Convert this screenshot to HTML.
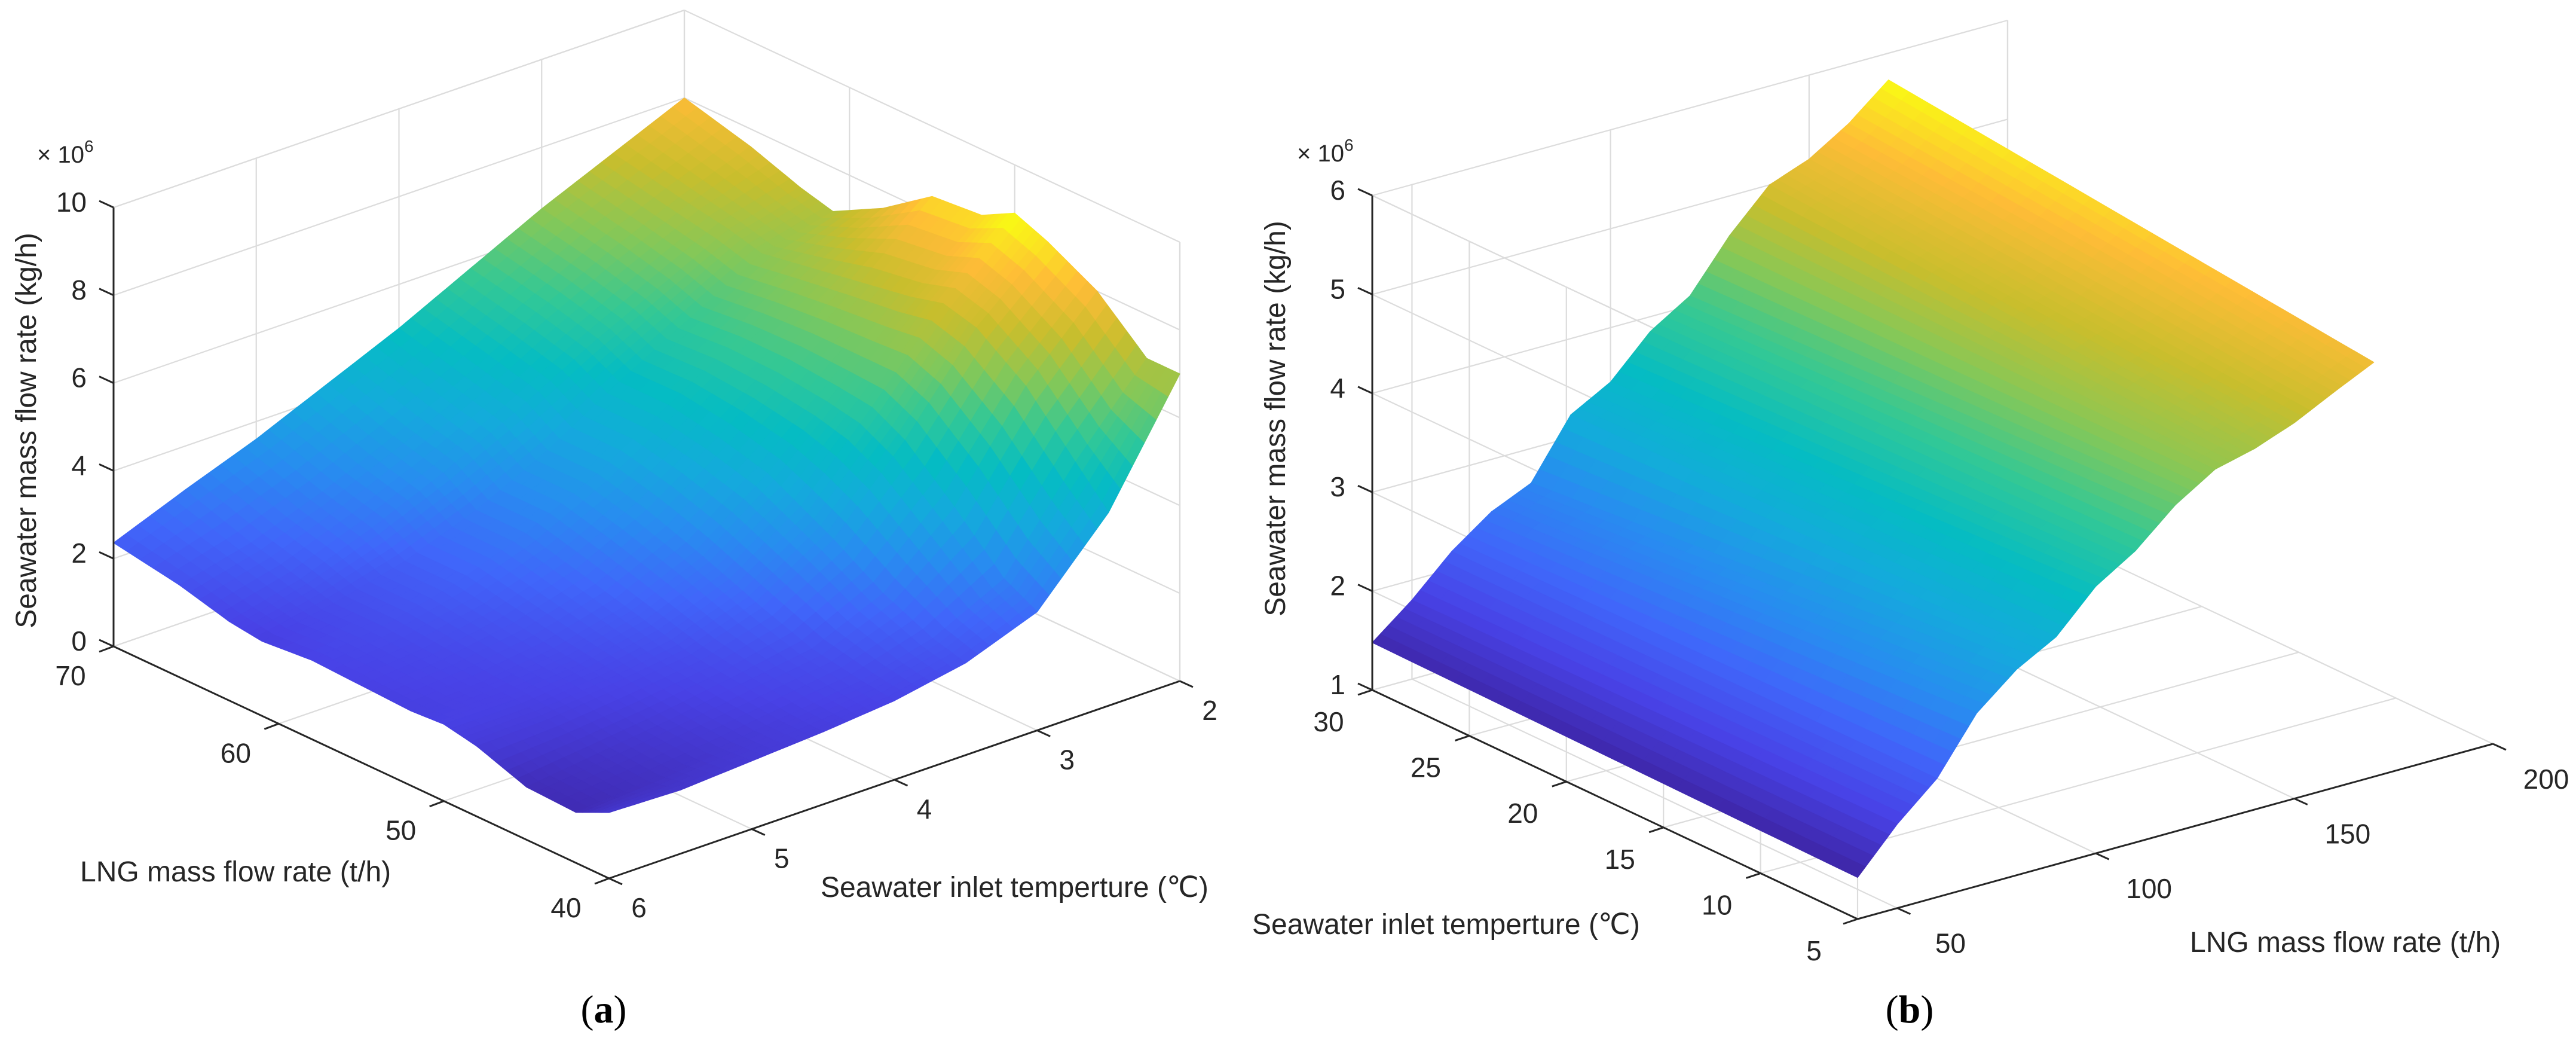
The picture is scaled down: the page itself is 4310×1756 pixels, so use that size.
<!DOCTYPE html>
<html><head><meta charset="utf-8"><style>
html,body{margin:0;padding:0;background:#fff;}
svg{display:block;}
text{font-family:"Liberation Sans",Arial,sans-serif;fill:#262626;}
.cap{font-family:"Liberation Serif",serif;fill:#000;}
</style></head><body>
<svg id="fig" width="4310" height="1756" viewBox="0 0 4310 1756" xmlns="http://www.w3.org/2000/svg">
<g id="chartA"></g>
<g id="chartB"></g>
<text class="cap" x="1010" y="1710" font-size="66" text-anchor="middle">(<tspan font-weight="bold">a</tspan>)</text>
<text class="cap" x="3195" y="1710" font-size="66" text-anchor="middle">(<tspan font-weight="bold">b</tspan>)</text>
</svg>
<script>
// ---- Chart (a) data ----
const lngA = [40,42,45,48,50,52,55,58,61,63,66,70];
const tempA = [2,2.5,3,3.5,4,4.5,5,5.5,6];
const flowA = [
 [7.0,7.0,8.0,8.6,8.9,8.5,8.4,7.6,7.0,7.2,7.6,8.0],
 [4.4,5.2,6.4,7.2,7.4,7.2,7.0,6.8,6.6,6.8,7.0,7.3],
 [2.7,3.1,4.2,5.2,5.6,5.7,5.8,5.8,5.7,6.0,6.3,6.6],
 [2.1,2.3,2.8,3.5,3.9,4.3,4.6,4.8,4.8,5.2,5.5,5.8],
 [1.8,1.9,2.1,2.5,2.8,3.1,3.5,3.8,3.8,4.3,4.6,5.0],
 [1.65,1.7,1.85,2.0,2.2,2.4,2.7,3.0,3.0,3.5,3.8,4.3],
 [1.55,1.5,1.6,1.8,1.9,2.0,2.2,2.4,2.4,2.8,3.1,3.6],
 [1.45,1.3,1.4,1.65,1.75,1.8,1.9,2.0,2.0,2.2,2.5,3.0],
 [1.5,1.15,1.2,1.6,1.75,1.7,1.75,1.8,1.7,1.8,2.1,2.36]
];
const zTicksA = [0,2,4,6,8,10];
const lngTicksA = [40,50,60,70];
const tempTicksA = [2,3,4,5,6];

// ---- Chart (b) data ----
const lngB = [40,50,60,70,80,90,100,110,120,130,140,150,160,170];
const tempB = [5,30];
const flowB = [
 [1.42,1.85,2.2,2.75,3.08,3.3,3.7,3.95,4.3,4.55,4.65,4.8,5.0,5.19],
 [1.48,1.8,2.18,2.47,2.65,3.23,3.45,3.85,4.1,4.6,5.0,5.15,5.4,5.73]
];
const zTicksB = [1,2,3,4,5,6];
const lngTicksB = [50,100,150,200];
const tempTicksB = [5,10,15,20,25,30];

const NS='http://www.w3.org/2000/svg';
const parula=[[62,38,168],[72,66,230],[64,102,250],[40,140,240],[20,170,220],[5,188,195],[50,200,150],[130,200,90],[200,190,45],[254,188,55],[249,250,20]];
function cmap(t){t=Math.max(0,Math.min(1,t))*10;const i=Math.min(9,Math.floor(t)),f=t-i;const a=parula[i],b=parula[i+1];
 return 'rgb('+a.map((v,k)=>Math.round(v+(b[k]-v)*f)).join(',')+')';}
function mk(tag,attrs,parent){const e=document.createElementNS(NS,tag);for(const k in attrs)e.setAttribute(k,attrs[k]);parent.appendChild(e);return e;}

function drawChart(g,cfg){
 const P=(L,T,z)=>{const u=cfg.u(L),v=cfg.v(T);return [cfg.O[0]+u*cfg.U[0]+v*cfg.V[0], cfg.O[1]+u*cfg.U[1]+v*cfg.V[1]-(z-cfg.zmin)*cfg.zs];};
 const grid=mk('g',{},g);
 
 
 const gl=(a,b)=>{mk('line',{x1:a[0],y1:a[1],x2:b[0],y2:b[1],stroke:'#dcdcdc','stroke-width':2.2},grid);};
 const zmax=cfg.zmax,zmin=cfg.zmin;
 cfg.zTicks.forEach(z=>{gl(P(cfg.Lback,cfg.Tfront,z),P(cfg.Lback,cfg.Tback,z));gl(P(cfg.Lback,cfg.Tback,z),P(cfg.Lfront,cfg.Tback,z));});
 cfg.tTicks.forEach(t=>{gl(P(cfg.Lback,t,zmin),P(cfg.Lback,t,zmax));gl(P(cfg.Lback,t,zmin),P(cfg.Lfront,t,zmin));});
 cfg.lTicks.forEach(l=>{gl(P(l,cfg.Tback,zmin),P(l,cfg.Tback,zmax));gl(P(l,cfg.Tback,zmin),P(l,cfg.Tfront,zmin));});
 gl(P(cfg.Lfront,cfg.Tback,zmin),P(cfg.Lfront,cfg.Tback,zmax));
 gl(P(cfg.Lback,cfg.Tfront,zmax),P(cfg.Lback,cfg.Tback,zmax));
 const surf=mk('g',{},g);
 
 
 const Ls=cfg.L,Ts=cfg.T,Z=cfg.Z,S=cfg.sub,ST=cfg.subT;
 const quads=[];
 for(let j=0;j<Ts.length-1;j++)for(let i=0;i<Ls.length-1;i++){
  for(let b=0;b<ST;b++)for(let a=0;a<S;a++){
   const f=(aa,bb)=>{const x=aa/S,y=bb/ST;const z=Z[j][i]*(1-x)*(1-y)+Z[j][i+1]*x*(1-y)+Z[j+1][i]*(1-x)*y+Z[j+1][i+1]*x*y;
     const L=Ls[i]+(Ls[i+1]-Ls[i])*x,T=Ts[j]+(Ts[j+1]-Ts[j])*y;return [L,T,z];};
   const c=[f(a,b),f(a+1,b),f(a+1,b+1),f(a,b+1)];
   const zc=(c[0][2]+c[1][2]+c[2][2]+c[3][2])/4;
   const Lc=(c[0][0]+c[2][0])/2,Tc=(c[0][1]+c[2][1])/2;
   quads.push({pts:c.map(p=>P(p[0],p[1],p[2])),z:zc,d:cfg.depth(Lc,Tc)});
  }}
 quads.sort((p,q)=>p.d-q.d);
 quads.forEach(q=>{const col=cmap((q.z-cfg.cmin)/(cfg.cmax-cfg.cmin));
  const el=mk('polygon',{points:q.pts.map(p=>p[0].toFixed(1)+','+p[1].toFixed(1)).join(' '),fill:col,stroke:col,'stroke-width':1.2,'stroke-linejoin':'round'},surf);
  
  });
 const ax=mk('g',{stroke:'#262626','stroke-width':3,fill:'none'},g);
 
 
 const al=(a,b)=>mk('line',{x1:a[0],y1:a[1],x2:b[0],y2:b[1]},ax);
 al(P(cfg.Lz,cfg.Tz,zmin),P(cfg.Lz,cfg.Tz,zmax));
 al(P(cfg.LaxFrom,cfg.TaxConst,zmin),P(cfg.LaxTo,cfg.TaxConst,zmin));
 al(P(cfg.LaxConst,cfg.TaxFrom,zmin),P(cfg.LaxConst,cfg.TaxTo,zmin));
 const lab=mk('g',{'font-size':46},g);
 
 
 cfg.zTicks.forEach(z=>{const p=P(cfg.Lz,cfg.Tz,z);al(p,[p[0]+cfg.zt[0],p[1]+cfg.zt[1]]);
  const t=mk('text',{x:p[0]+cfg.zl[0],y:p[1]+cfg.zl[1]+15,'text-anchor':'end'},lab);t.textContent=z;
  
  });
 cfg.lTicks.forEach(l=>{const p=P(l,cfg.TaxConst,zmin);al(p,[p[0]+cfg.lt[0],p[1]+cfg.lt[1]]);
  const t=mk('text',{x:p[0]+cfg.ll[0],y:p[1]+cfg.ll[1]+15,'text-anchor':'middle'},lab);t.textContent=l;
  
  });
 cfg.tTicks.forEach(tv=>{const p=P(cfg.LaxConst,tv,zmin);al(p,[p[0]+cfg.tt[0],p[1]+cfg.tt[1]]);
  const t=mk('text',{x:p[0]+cfg.tl[0],y:p[1]+cfg.tl[1]+15,'text-anchor':'middle'},lab);t.textContent=tv;
  
  });
}

drawChart(document.getElementById('chartA'),{
 O:[190,1081],U:[829,388],V:[955,-330],u:L=>(70-L)/30,v:T=>(6-T)/4,zs:73.4,zmin:0,zmax:10,
 L:lngA,T:tempA,Z:flowA,sub:5,subT:6,cmin:1.0,cmax:8.8,
 Lback:70,Lfront:40,Tback:2,Tfront:6,
 zTicks:zTicksA,lTicks:lngTicksA,tTicks:tempTicksA,
 depth:(L,T)=>(70-L)/30+(T-2)/4,
 Lz:70,Tz:6,LaxFrom:70,LaxTo:40,TaxConst:6,LaxConst:40,TaxFrom:6,TaxTo:2,
 zt:[-24,-11],zl:[-45,-8],lt:[-24,9],ll:[-72,50],tt:[22,10],tl:[50,50]
});
drawChart(document.getElementById('chartB'),{
 O:[2296,1154],U:[1063,-293],V:[812,383],u:L=>(L-40)/160,v:T=>(30-T)/25,zs:165.4,zmin:1,zmax:6,
 L:lngB,T:tempB,Z:flowB,sub:5,subT:24,cmin:1.44,cmax:5.73,
 Lback:40,Lfront:200,Tback:30,Tfront:5,
 zTicks:zTicksB,lTicks:lngTicksB,tTicks:tempTicksB,
 depth:(L,T)=>(T-5)/25+(170-L)/130,
 Lz:40,Tz:30,LaxFrom:40,LaxTo:200,TaxConst:5,LaxConst:40,TaxFrom:30,TaxTo:5,
 zt:[-24,-11],zl:[-45,-8],lt:[22,10],ll:[89,60],tt:[-24,8],tl:[-73,54]
});
</script>
<svg style="position:absolute;left:0;top:0;pointer-events:none" width="4310" height="1756">
<text font-size="48" text-anchor="middle" transform="translate(60,720) rotate(-90)">Seawater mass flow rate (kg/h)</text>
<text font-size="40" x="62" y="272">× 10<tspan font-size="28" dy="-18">6</tspan></text>
<text font-size="48" x="134" y="1474">LNG mass flow rate (t/h)</text>
<text font-size="48" x="1373" y="1500">Seawater inlet temperture (℃)</text>
<text font-size="48" text-anchor="middle" transform="translate(2150,700) rotate(-90)">Seawater mass flow rate (kg/h)</text>
<text font-size="40" x="2170" y="270">× 10<tspan font-size="28" dy="-18">6</tspan></text>
<text font-size="48" x="2095" y="1562">Seawater inlet temperture (℃)</text>
<text font-size="48" x="3664" y="1592">LNG mass flow rate (t/h)</text>
</svg>
</body></html>
